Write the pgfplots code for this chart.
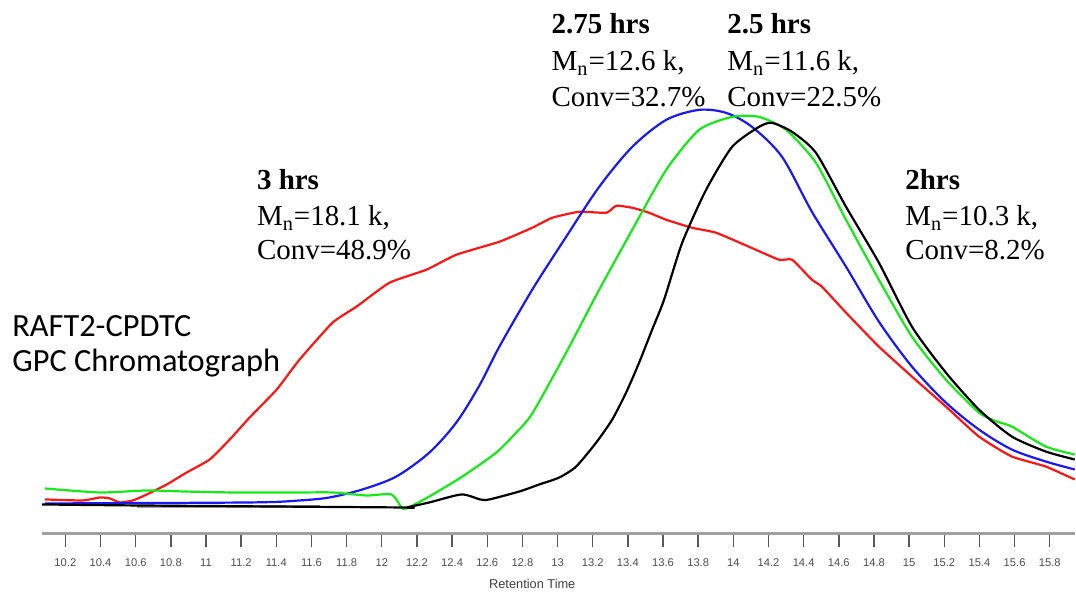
\documentclass[border=0pt]{standalone}
\usepackage{fontspec}
\setmainfont{Liberation Serif}
\setsansfont{Liberation Sans}
\newfontfamily\calibri{Carlito}
\usepackage{pgfplots}
\pgfplotsset{compat=1.18}

\definecolor{gpcred}{RGB}{255,20,20}
\definecolor{gpcblue}{RGB}{25,25,245}
\definecolor{gpcgreen}{RGB}{20,235,20}
\definecolor{gpcgrey}{RGB}{160,160,160}

% 3 hrs
\pgfplotstableread{
x y
10.084 34
10.299 33
10.396 36
10.453 35
10.510 31
10.584 33
10.663 39
10.777 49
10.890 61
11.021 74
11.135 94
11.248 116
11.402 144
11.532 174
11.720 211
11.856 227
12.044 251
12.254 264
12.424 279
12.669 292
12.856 306
12.970 316
13.123 322
13.277 321
13.334 328
13.425 326
13.521 321
13.618 314
13.765 306
13.902 301
14.089 287
14.260 274
14.334 274
14.447 254
14.504 247
14.641 221
14.828 187
15.016 157
15.209 127
15.397 97
15.584 77
15.777 67
15.942 54
}\redtab

% 2.75 hrs
\pgfplotstableread{
x y
10.084 30
11.248 31
11.532 33
11.703 36
11.890 44
12.083 57
12.271 81
12.424 111
12.555 148
12.669 187
12.856 244
13.049 297
13.237 347
13.425 387
13.618 414
13.805 424
13.959 421
14.106 407
14.277 377
14.447 322
14.641 267
14.828 212
15.016 167
15.209 131
15.397 104
15.584 84
15.777 72
15.942 64
}\bluetab

% 2.5 hrs
\pgfplotstableread{
x y
10.084 45
10.396 41
10.663 43
10.868 42
11.152 41
11.532 41
11.720 41
11.913 38
12.055 39
12.112 26
12.140 25
12.271 37
12.459 57
12.652 81
12.765 101
12.856 120
13.049 181
13.237 244
13.425 304
13.618 364
13.805 404
13.993 417
14.146 417
14.300 404
14.470 371
14.641 314
14.828 254
15.016 197
15.209 154
15.397 121
15.500 112
15.584 107
15.777 87
15.942 79
}\greentab

% 2 hrs
\pgfplotstableread{
x y
10.066 29
10.600 28
12.101 26
12.140 26
12.270 31
12.453 39
12.560 34
12.612 34
12.783 42
12.896 49
13.010 56
13.106 67
13.220 91
13.311 114
13.390 141
13.464 171
13.538 204
13.606 234
13.709 291
13.845 344
13.993 387
14.146 407
14.220 411
14.334 402
14.470 381
14.641 327
14.828 271
15.016 207
15.209 161
15.397 124
15.584 97
15.777 82
15.942 74
}\blacktab

\begin{document}
\begin{tikzpicture}
\begin{axis}[
    scale only axis,
    width=517pt, height=267pt,
    xmin=10.066, xmax=15.942,
    ymin=0, ymax=534,
    axis x line*=bottom,
    axis y line=none,
    x axis line style={-, draw=gpcgrey, line width=1.3pt},
    xtick={10.2,10.4,10.6,10.8,11,11.2,11.4,11.6,11.8,12,12.2,12.4,12.6,12.8,13,13.2,13.4,13.6,13.8,14,14.2,14.4,14.6,14.8,15,15.2,15.4,15.6,15.8},
    tick align=outside,
    major tick length=7pt,
    xtick style={draw=black!65, line width=0.7pt},
    /pgf/number format/assume math mode=true,
    xticklabel style={font=\sffamily\fontsize{5.6}{6.5}\selectfont, text=black!70, yshift=-2pt},
    clip=false,
    every axis plot/.append style={line width=1.1pt, line join=round},
]
\draw[draw=none] (axis cs:9.828,-58) rectangle (axis cs:15.942,534);
\addplot[gpcgrey, line width=1.1pt] coordinates {(10.607,27) (11.646,27)};
\addplot[gpcred, smooth, tension=0.3] table[x=x, y=y] {\redtab};
\addplot[gpcblue, smooth, tension=0.5] table[x=x, y=y] {\bluetab};
\addplot[gpcgreen, smooth, tension=0.4] table[x=x, y=y] {\greentab};
\addplot[black, smooth, tension=0.4] table[x=x, y=y] {\blacktab};

\node[anchor=center, font=\sffamily\fontsize{6.4}{7.5}\selectfont, text=black!75] at (axis cs:12.856,-51) {Retention Time};

\begin{scope}[every node/.style={anchor=base west, inner sep=0pt, font=\fontsize{14.5}{17}\selectfont}]
\node at (axis cs:11.288,344) {\textbf{3 hrs}};
\node at (axis cs:11.288,308) {M\textsubscript{n}=18.1 k,};
\node at (axis cs:11.288,274) {Conv=48.9\%};
\node at (axis cs:12.964,500) {\textbf{2.75 hrs}};
\node at (axis cs:12.964,463) {M\textsubscript{n}=12.6 k,};
\node at (axis cs:12.964,427) {Conv=32.7\%};
\node at (axis cs:13.964,500) {\textbf{2.5 hrs}};
\node at (axis cs:13.964,463) {M\textsubscript{n}=11.6 k,};
\node at (axis cs:13.964,427) {Conv=22.5\%};
\node at (axis cs:14.976,344) {\textbf{2hrs}};
\node at (axis cs:14.976,308) {M\textsubscript{n}=10.3 k,};
\node at (axis cs:14.976,274) {Conv=8.2\%};
\end{scope}

\begin{scope}[every node/.style={anchor=base west, inner sep=0pt, font=\calibri\fontsize{16.2}{19}\selectfont}]
\node at (axis cs:9.896,197) {RAFT2-CPDTC};
\node at (axis cs:9.896,162) {GPC Chromatograph};
\end{scope}
\end{axis}
\end{tikzpicture}
\end{document}
